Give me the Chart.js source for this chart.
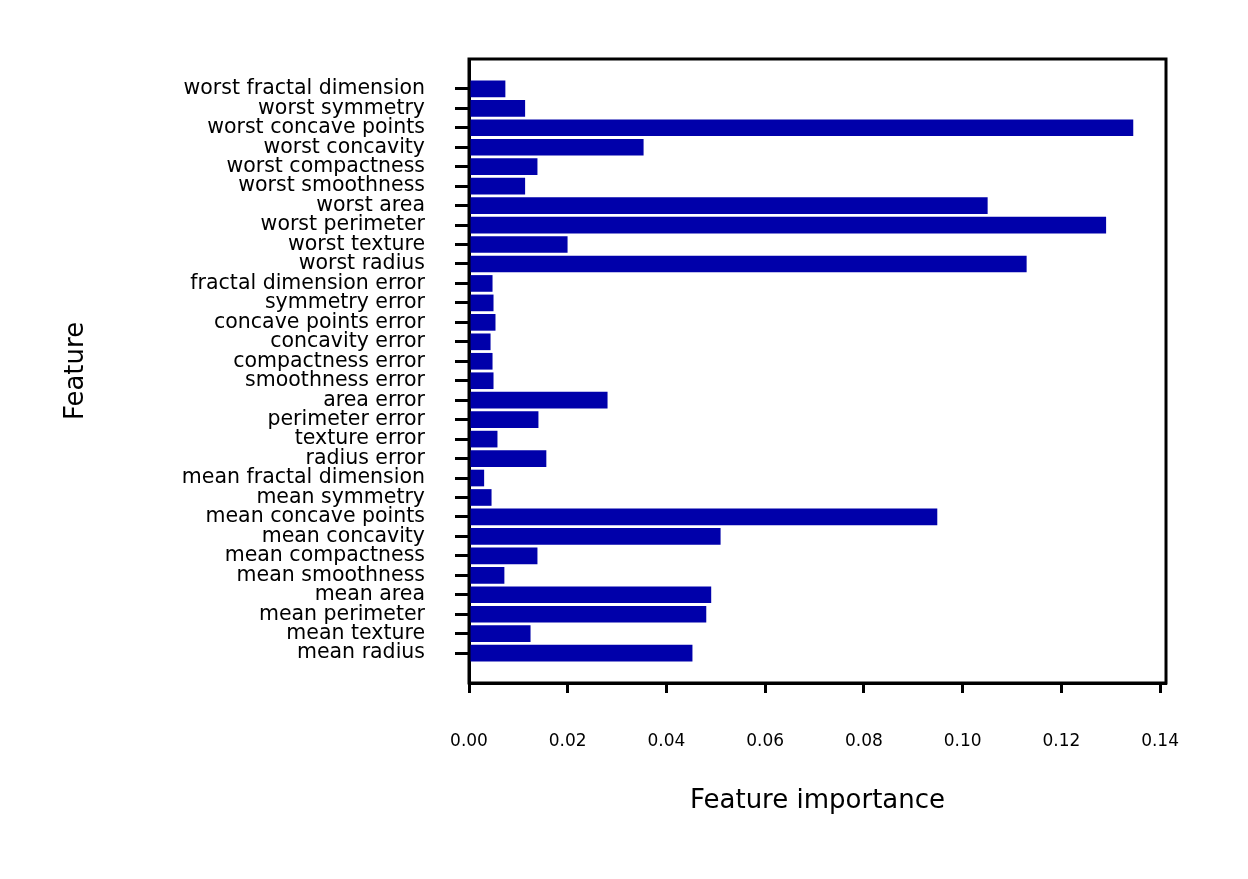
<!DOCTYPE html>
<html><head><meta charset="utf-8">
<script src="https://cdn.jsdelivr.net/npm/chart.js@4/dist/chart.umd.min.js"></script>
<style>html,body{margin:0;padding:0;background:#fff}</style>
</head><body>
<canvas id="c" width="1248" height="879"></canvas>
<script>
const features = ["mean radius","mean texture","mean perimeter","mean area","mean smoothness","mean compactness","mean concavity","mean concave points","mean symmetry","mean fractal dimension","radius error","texture error","perimeter error","area error","smoothness error","compactness error","concavity error","concave points error","symmetry error","fractal dimension error","worst radius","worst texture","worst perimeter","worst area","worst smoothness","worst compactness","worst concavity","worst concave points","worst symmetry","worst fractal dimension"];
const importance = [0.0452,0.0124,0.048,0.049,0.0071,0.0138,0.0509,0.0948,0.0045,0.003,0.0156,0.0057,0.014,0.028,0.0049,0.0047,0.0043,0.0053,0.0049,0.0047,0.1129,0.0199,0.129,0.105,0.0113,0.0138,0.0353,0.1345,0.0113,0.0073];
const xTicks = [0,0.02,0.04,0.06,0.08,0.10,0.12,0.14];

const frame = {id:'frame', afterDraw(c){const a=c.chartArea,x=c.ctx;x.save();x.strokeStyle='#000';x.lineWidth=3;x.strokeRect(a.left,a.top,a.right-a.left,a.bottom-a.top);x.restore();}};
new Chart(document.getElementById('c'), {
  type:'bar',
  data:{datasets:[{data:importance.map((v,i)=>({x:v,y:i})), backgroundColor:'#0000AA', barThickness:16}]},
  options:{
    indexAxis:'y', responsive:false, devicePixelRatio:1, animation:false,
    layout:{padding:{top:59,right:82,left:57,bottom:58}},
    plugins:{legend:{display:false},tooltip:{enabled:false}},
    scales:{
      x:{type:'linear',min:0,max:0.1412,
        afterBuildTicks(s){s.ticks=xTicks.map(v=>({value:v}));},
        afterFit(s){s.height=138;},
        ticks:{color:'#000',font:{family:'DejaVu Sans',size:17},padding:38,callback:v=>v.toFixed(2)},
        grid:{offset:false,drawOnChartArea:false,drawTicks:true,tickLength:10,tickWidth:3,color:'#000'},
        border:{display:true,width:3,color:'#000'},
        title:{display:true,text:'Feature importance',color:'#000',font:{family:'DejaVu Sans',size:26}}
      },
      y:{type:'linear',min:-1,max:30,
        afterBuildTicks(s){s.ticks=features.map((f,i)=>({value:i}));},
        afterFit(s){s.width=469-57;},
        ticks:{color:'#000',font:{family:'DejaVu Sans',size:20.5},padding:30,autoSkip:false,callback:v=>features[v]},
        grid:{offset:false,drawOnChartArea:false,drawTicks:true,tickLength:14,tickWidth:3,color:'#000'},
        border:{display:true,width:3,color:'#000'},
        title:{display:true,text:'Feature',color:'#000',font:{family:'DejaVu Sans',size:26}}
      }
    }
  },
  plugins:[frame]
});
</script></body></html>
